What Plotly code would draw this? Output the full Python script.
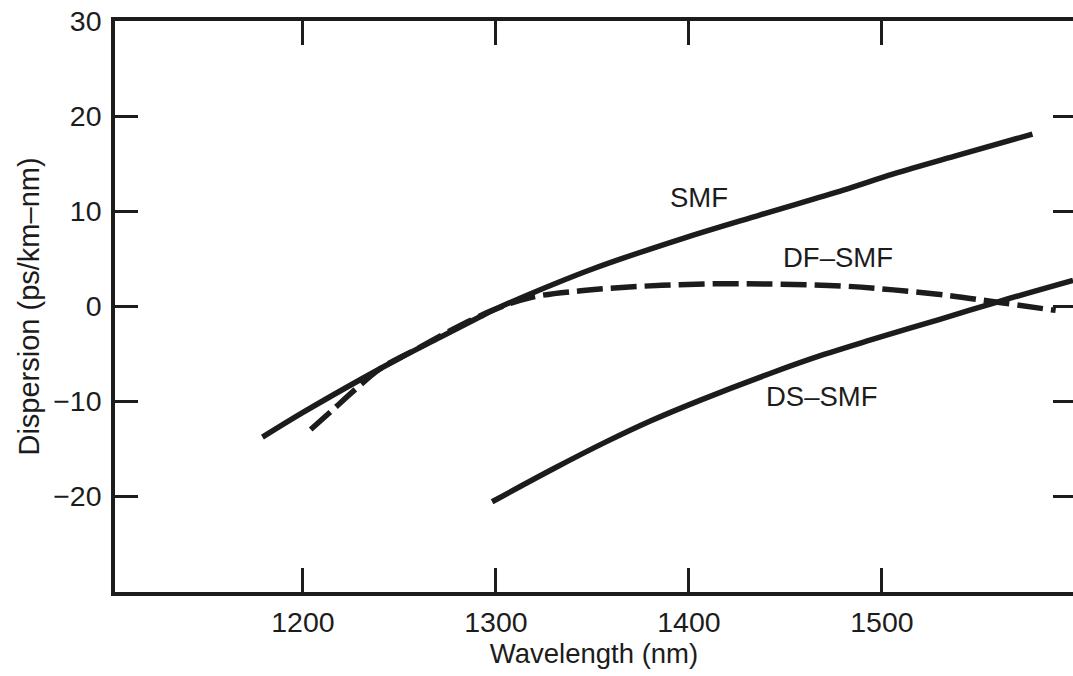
import plotly.graph_objects as go

# Data (wavelength in nm, dispersion in ps/km-nm)
smf_nm = [1179, 1200, 1231, 1250, 1271, 1292, 1300, 1318, 1350, 1395, 1437, 1480, 1506, 1540, 1578]
smf_d = [-13.8, -11.2, -7.6, -5.5, -3.3, -1.1, -0.3, 1.3, 3.9, 7.0, 9.6, 12.2, 13.9, 15.9, 18.1]

dfsmf_nm = [1204, 1215, 1227, 1240, 1260, 1280, 1300, 1318, 1344, 1369, 1395, 1421, 1447, 1480, 1506, 1535, 1558, 1590]
dfsmf_d = [-13.0, -11.0, -8.8, -6.6, -4.4, -2.2, -0.3, 0.9, 1.6, 2.0, 2.25, 2.35, 2.3, 2.1, 1.7, 1.1, 0.45, -0.46]

dssmf_nm = [1298, 1330, 1357, 1380, 1406, 1442, 1470, 1492, 1530, 1561, 1599]
dssmf_d = [-20.6, -17.1, -14.3, -12.1, -9.9, -7.1, -5.1, -3.7, -1.4, 0.5, 2.7]

x_ticks = [1200, 1300, 1400, 1500]
y_ticks = [-20, -10, 0, 10, 20, 30]

curve_labels = ["SMF", "DF–SMF", "DS–SMF"]
label_x = [1405, 1477, 1469]
label_y = [11.4, 5.1, -9.5]

x_title = "Wavelength (nm)"
y_title = "Dispersion (ps/km–nm)"

INK = "#1c1c1c"
FONT = "Liberation Sans, Arial, sans-serif"

fig = go.Figure()
fig.add_trace(go.Scatter(x=smf_nm, y=smf_d, mode="lines", line=dict(color=INK, width=5.5, shape="spline"),
                         showlegend=False, hoverinfo="skip"))
fig.add_trace(go.Scatter(x=dfsmf_nm, y=dfsmf_d, mode="lines",
                         line=dict(color=INK, width=5.5, dash="26px,8px", shape="spline"),
                         showlegend=False, hoverinfo="skip"))
fig.add_trace(go.Scatter(x=dssmf_nm, y=dssmf_d, mode="lines", line=dict(color=INK, width=5.5, shape="spline"),
                         showlegend=False, hoverinfo="skip"))
# invisible trace on the right-hand y axis so that its mirrored ticks show
fig.add_trace(go.Scatter(x=[x_ticks[0]], y=[y_ticks[0]], yaxis="y2", mode="markers",
                         marker=dict(opacity=0), showlegend=False, hoverinfo="skip"))

for t, xx, yy in zip(curve_labels, label_x, label_y):
    fig.add_annotation(x=xx, y=yy, text=t, showarrow=False,
                       font=dict(family=FONT, size=27.5, color=INK))

fig.update_layout(
    width=1073, height=676,
    margin=dict(l=115, r=0, t=21, b=84),
    paper_bgcolor="white", plot_bgcolor="white",
    font=dict(family=FONT, size=28.5, color=INK),
    xaxis=dict(range=[1102.6, 1599], tickvals=x_ticks, ticks="inside", ticklen=24, tickwidth=2.5,
               tickcolor=INK, showline=True, linewidth=3.5, linecolor=INK, mirror="ticks",
               showgrid=False, zeroline=False, ticklabelstandoff=2, automargin=False,
               ticklabeloverflow="allow",
               title=dict(text=x_title, font=dict(size=27.5), standoff=6)),
    yaxis=dict(range=[-30.1, 30], tickvals=y_ticks, ticks="inside", ticklen=23, tickwidth=2.5,
               tickcolor=INK, showline=True, linewidth=3.5, linecolor=INK, mirror=False,
               showgrid=False, zeroline=False, ticklabelstandoff=4, automargin=False,
               ticklabeloverflow="allow",
               title=dict(text=y_title, font=dict(size=29), standoff=6)),
    yaxis2=dict(range=[-30.1, 30], tickvals=y_ticks[:-1], overlaying="y", side="right",
                ticks="inside", ticklen=20, tickwidth=2.5, tickcolor=INK, showline=False,
                showticklabels=False, showgrid=False, zeroline=False, automargin=False),
)

# remove the page body's default margin so the figure fills the window exactly
fig.write_html("out.html", config={"displayModeBar": False},
               post_script="document.body.style.margin='0';")
